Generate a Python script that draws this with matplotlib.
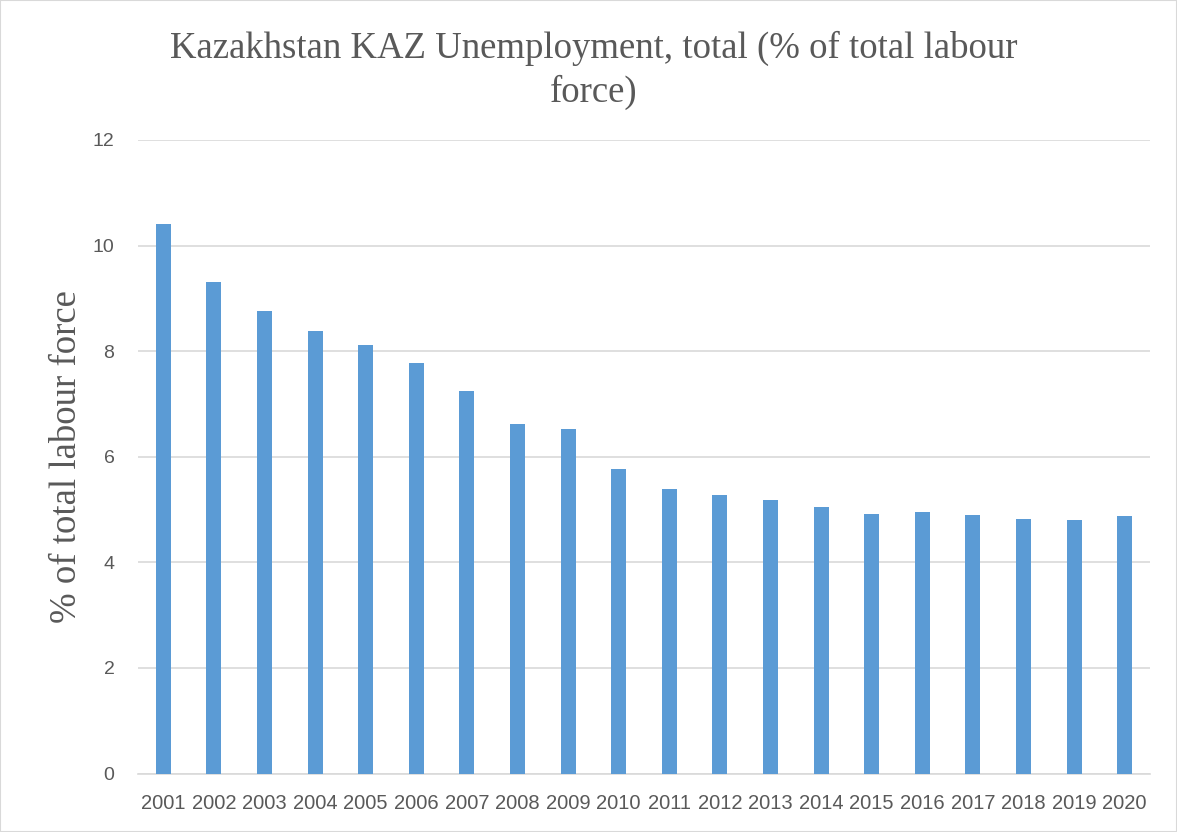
import matplotlib
matplotlib.use("Agg")
import matplotlib.pyplot as plt
from matplotlib.patches import Rectangle

years = ["2001", "2002", "2003", "2004", "2005", "2006", "2007", "2008", "2009", "2010",
         "2011", "2012", "2013", "2014", "2015", "2016", "2017", "2018", "2019", "2020"]
unemployment = [10.41, 9.31, 8.77, 8.39, 8.11, 7.77, 7.25, 6.62, 6.53, 5.76,
                5.38, 5.27, 5.19, 5.04, 4.92, 4.95, 4.89, 4.83, 4.80, 4.87]
yticks = [0, 2, 4, 6, 8, 10, 12]

title = "Kazakhstan KAZ Unemployment, total (% of total labour\nforce)"
ylabel = "% of total labour force"

W, H = 1177, 832
fig = plt.figure(figsize=(W / 100, H / 100), dpi=100)
ax = fig.add_axes([138 / W, (H - 773.5) / H, (1150 - 138) / W, (773.5 - 140) / H])

x = list(range(len(years)))
ax.bar(x, unemployment, width=0.30, color="#5b9bd5", zorder=3)
ax.set_xlim(-0.5, len(years) - 0.5)
ax.set_ylim(0, 12)
ax.set_yticks(yticks)
ax.set_yticklabels([str(t) for t in yticks], fontsize=14, color="#595959",
                   family="Liberation Sans")
ax.set_xticks(x)
ax.set_xticklabels(years, fontsize=14.5, color="#595959", family="Liberation Sans")
ax.tick_params(axis="both", length=0)
ax.tick_params(axis="y", pad=17)
ax.tick_params(axis="x", pad=15)
ax.grid(axis="y", color="#d9d9d9", linewidth=1.2, zorder=0)
for s in ["top", "right", "left"]:
    ax.spines[s].set_visible(False)
ax.spines["bottom"].set_color("#d9d9d9")
ax.spines["bottom"].set_linewidth(1.2)

fig.text(594 / W, 1 - 31 / H, title, ha="center", va="top", fontsize=26.5,
         family="Liberation Serif", color="#595959", linespacing=1.3)
fig.text(67 / W, 1 - 457 / H, ylabel, ha="center", va="center", rotation=90,
         fontsize=26.5, family="Liberation Serif", color="#595959")

fig.patches.append(Rectangle((0, 0), 1, 1, transform=fig.transFigure, fill=False,
                             edgecolor="#d9d9d9", linewidth=1.5))

fig.savefig("out.png", dpi=100)
